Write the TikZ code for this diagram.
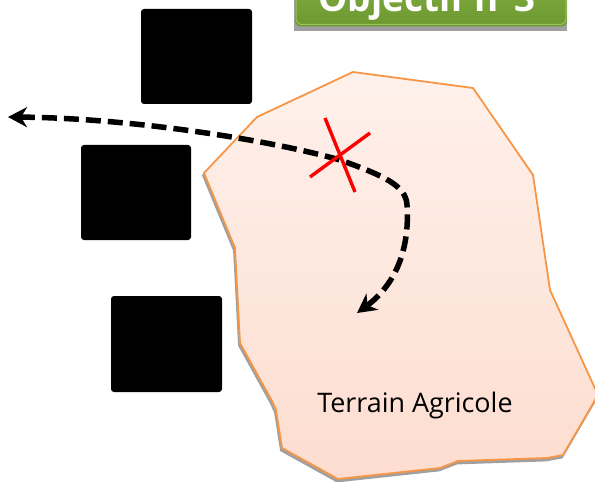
\documentclass[tikz,border=0pt]{standalone}
\usepackage{fontspec}
\setmainfont{Open Sans}
\usetikzlibrary{arrows.meta}
\definecolor{orangeln}{HTML}{F79646}
\definecolor{filltop}{HTML}{FEF1EB}
\definecolor{fillbot}{HTML}{FDDDD0}
\definecolor{greentop}{HTML}{8AB447}
\definecolor{greenbot}{HTML}{6C9830}
\definecolor{greenedge}{HTML}{9CC25C}
\definecolor{shadowgray}{HTML}{A0A0A0}
\tikzset{
  blk/.style={fill=black, draw=none, rounded corners=3bp, inner sep=0pt},
  field/.style={draw=orangeln, line width=1.8bp, top color=filltop, bottom color=fillbot, line join=miter},
  fieldshadow/.style={fill=shadowgray, draw=shadowgray, line width=1.8bp},
  route/.style={line width=5.5bp, dash pattern=on 15bp off 7bp,
    {Stealth[length=19bp,width=20bp,inset=6bp]}-{Stealth[length=19bp,width=20bp,inset=6bp]}},
  cross/.style={draw=red, line width=3.4bp},
  label/.style={font=\fontsize{27}{30}\selectfont, text=black, inner sep=0pt}
}
\begin{document}
\begin{tikzpicture}[x=1bp,y=-1bp]
\useasboundingbox (0,0) rectangle (595,482);
\begin{scope}
\clip (0,0) rectangle (595,482);
% title box shadow and box
\fill[shadowgray] (294,-40) rectangle (566.5,31);
\shade[top color=greentop, bottom color=greenbot, rounded corners=6bp] (295,-40) rectangle (567,26.5);
\draw[greenedge, line width=1bp, rounded corners=6bp] (296,-40) -- (296,24.5) -- (566,24.5) -- (566,-40);
\node[anchor=base, text=white, font=\fontsize{37}{40}\selectfont\bfseries, inner sep=0pt] (title) at (427,12) {Objectif n°3};
% field shadow
\path[fieldshadow, shift={(-1,2.5)}] (353,72) -- (473,88) -- (533,175) -- (550,290) -- (598,395) -- (563,455) -- (547,458) -- (458,461) -- (440,468) -- (338,479) -- (282,448) -- (276,410) -- (272,401) -- (240,343) -- (235,248) -- (204,173) -- (257,117) -- cycle;
% field
\path[field] (353,72) -- (473,88) -- (533,175) -- (550,290) -- (598,395) -- (563,455) -- (547,458) -- (458,461) -- (440,468) -- (338,479) -- (282,448) -- (276,410) -- (272,401) -- (240,343) -- (235,248) -- (204,173) -- (257,117) -- cycle;
\end{scope}
% black blocks
\node[blk, minimum width=111bp, minimum height=95bp] (b1) at (196.5,56.5) {};
\node[blk, minimum width=110bp, minimum height=95bp] (b2) at (136,192.5) {};
\node[blk, minimum width=111bp, minimum height=96bp] (b3) at (166.5,344) {};
% label
\node[label, anchor=base] (lbl) at (415,412) {Terrain Agricole};
% route
\coordinate (s) at (8,117);
\coordinate (m) at (340,160);
\coordinate (k) at (407,205);
\coordinate (e) at (357,313);
\draw[route] (s) .. controls (130,118) and (270,140) .. (m) .. controls (385,176) and (406,186) .. (k) .. controls (410,250) and (395,285) .. (e);
% red cross
\coordinate (c1a) at (325,118);
\coordinate (c1b) at (355,192);
\coordinate (c2a) at (310,177);
\coordinate (c2b) at (370,133);
\draw[cross] (c1a) -- (c1b);
\draw[cross] (c2a) -- (c2b);
\end{tikzpicture}
\end{document}
